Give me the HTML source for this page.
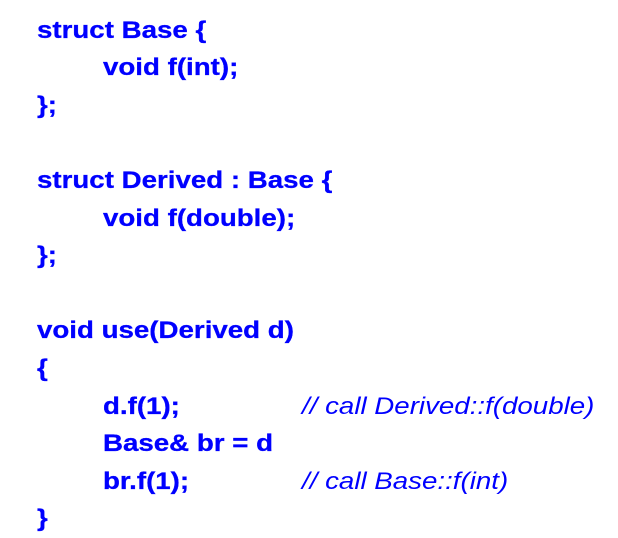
<!DOCTYPE html>
<html><head><style>
body{margin:0;width:618px;height:536px;background:#fff;overflow:hidden}
.l{position:absolute;font-family:"Liberation Sans",Arial,sans-serif;font-weight:bold;font-size:24.5px;color:#0000ff;line-height:37.6px;white-space:pre;transform:scaleX(1.13);transform-origin:0 0;-webkit-text-stroke:0.3px #0000ff}
.c{font-weight:normal;font-style:italic;-webkit-text-stroke:0}
</style></head><body>
<div class="l" style="left:37px;top:11.5px">struct Base {</div>
<div class="l" style="left:103px;top:49.1px">void f(int);</div>
<div class="l" style="left:37px;top:86.7px">};</div>
<div class="l" style="left:37px;top:161.9px">struct Derived : Base {</div>
<div class="l" style="left:103px;top:199.5px">void f(double);</div>
<div class="l" style="left:37px;top:237.1px">};</div>
<div class="l" style="left:37px;top:312.3px">void use(Derived d)</div>
<div class="l" style="left:37px;top:349.9px">{</div>
<div class="l" style="left:103px;top:387.5px">d.f(1);</div>
<div class="l c" style="left:302px;top:387.5px">// call Derived::f(double)</div>
<div class="l" style="left:103px;top:425.1px">Base&amp; br = d</div>
<div class="l" style="left:103px;top:462.7px">br.f(1);</div>
<div class="l c" style="left:302px;top:462.7px">// call Base::f(int)</div>
<div class="l" style="left:37px;top:500.3px">}</div>
</body></html>
